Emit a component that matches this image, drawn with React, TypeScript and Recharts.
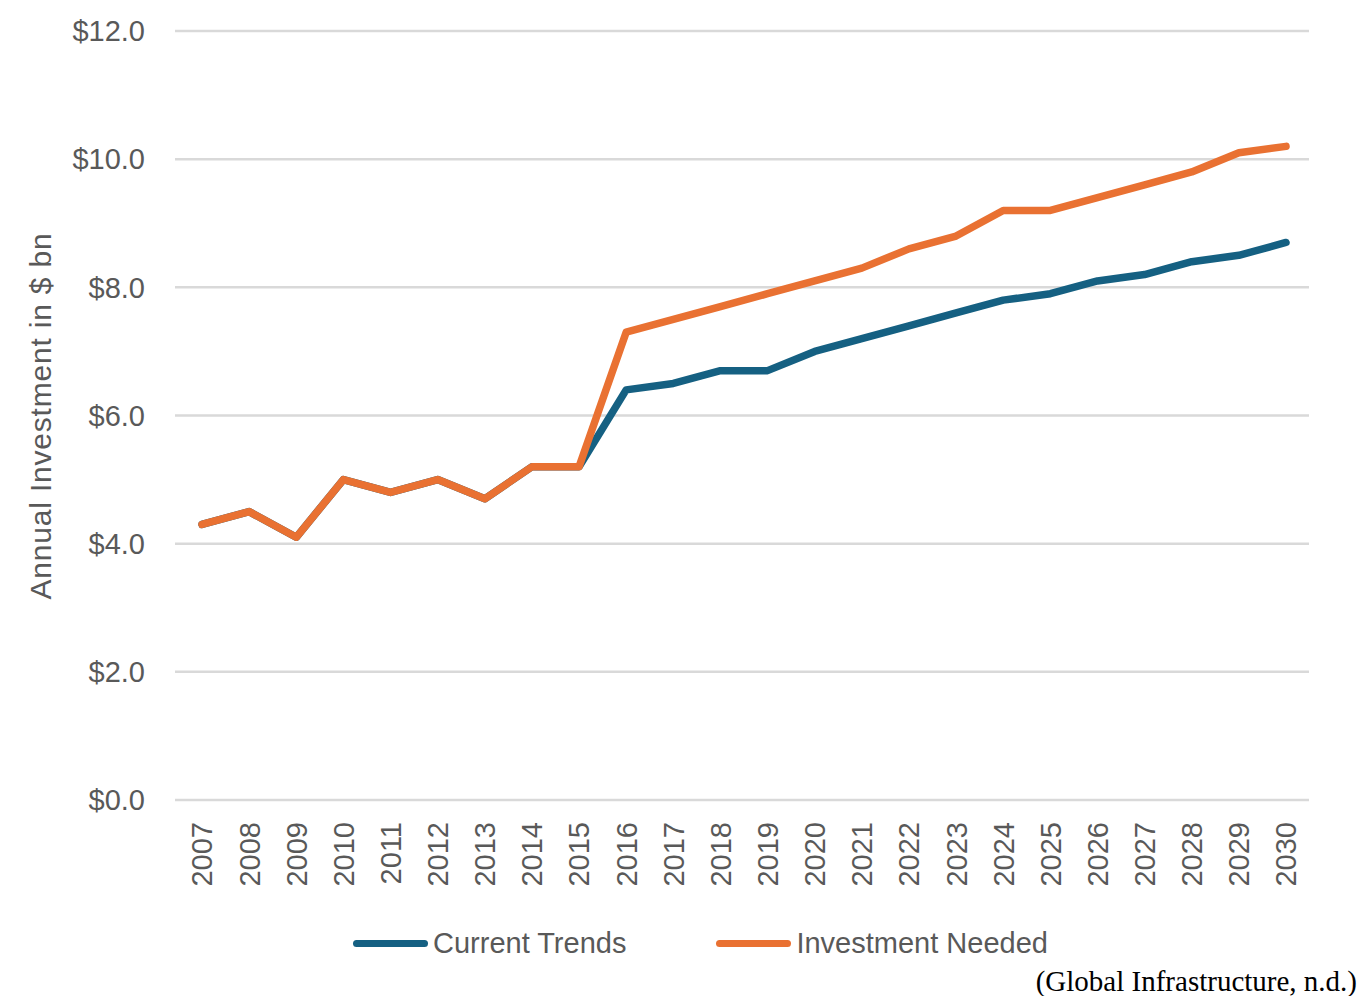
import React from 'react';
import { LineChart, Line, XAxis, YAxis, CartesianGrid } from 'recharts';

// ── Data ─────────────────────────────────────────────────────────────────────
const years = [
  '2007', '2008', '2009', '2010', '2011', '2012', '2013', '2014', '2015', '2016', '2017', '2018',
  '2019', '2020', '2021', '2022', '2023', '2024', '2025', '2026', '2027', '2028', '2029', '2030',
];
const currentTrends = [
  4.3, 4.5, 4.1, 5.0, 4.8, 5.0, 4.7, 5.2, 5.2, 6.4, 6.5, 6.7,
  6.7, 7.0, 7.2, 7.4, 7.6, 7.8, 7.9, 8.1, 8.2, 8.4, 8.5, 8.7,
];
const investmentNeeded = [
  4.3, 4.5, 4.1, 5.0, 4.8, 5.0, 4.7, 5.2, 5.2, 7.3, 7.5, 7.7,
  7.9, 8.1, 8.3, 8.6, 8.8, 9.2, 9.2, 9.4, 9.6, 9.8, 10.1, 10.2,
];
const yTicks = [0, 2, 4, 6, 8, 10, 12];

const BLUE = '#156082';
const ORANGE = '#E97132';
const TEXT = '#595959';
const FONT = '"Liberation Sans", Arial, sans-serif';

const rows = years.map((year, i) => ({
  year,
  current: currentTrends[i],
  needed: investmentNeeded[i],
}));

// rotated year labels under the axis
function YearTick({ x, y, payload }: any) {
  return (
    <text
      x={x}
      y={y}
      transform={`rotate(-90, ${x}, ${y})`}
      textAnchor="end"
      dy="0.36em"
      fill={TEXT}
      fontSize={29}
      fontFamily={FONT}
    >
      {payload.value}
    </text>
  );
}

function YLabel() {
  return (
    <text
      x={40}
      y={416}
      transform="rotate(-90, 40, 416)"
      textAnchor="middle"
      dominantBaseline="central"
      fill={TEXT}
      fontSize={30}
      letterSpacing={0.8}
      fontFamily={FONT}
    >
      Annual Investment in $ bn
    </text>
  );
}

function LegendItem({ color, label }: { color: string; label: string }) {
  return (
    <div style={{ display: 'flex', alignItems: 'center' }}>
      <span style={{ width: 75, height: 7, borderRadius: 4, background: color, marginRight: 5 }} />
      <span style={{ color: TEXT, fontSize: 29, fontFamily: FONT }}>{label}</span>
    </div>
  );
}

export default function App() {
  return (
    <div style={{ position: 'absolute', left: 0, top: 0, width: 1363, height: 996, background: '#fff' }}>
      <LineChart
        width={1363}
        height={996}
        data={rows}
        margin={{ top: 31, right: 54, left: 0, bottom: 96 }}
      >
        <CartesianGrid vertical={false} stroke="#d9d9d9" strokeWidth={2.5} />
        <XAxis
          dataKey="year"
          height={100}
          axisLine={false}
          tickLine={false}
          tickSize={0}
          interval={0}
          padding={{ left: 27, right: 23 }}
          tick={<YearTick />}
          tickMargin={22}
        />
        <YAxis
          width={175}
          domain={[0, 12]}
          ticks={yTicks}
          axisLine={false}
          tickLine={false}
          tickSize={0}
          tickMargin={30}
          tickFormatter={(v: number) => `$${v.toFixed(1)}`}
          tick={{ fill: TEXT, fontSize: 29, fontFamily: FONT }}
          label={<YLabel />}
        />
        <Line
          type="linear"
          dataKey="current"
          stroke={BLUE}
          strokeWidth={7.5}
          strokeLinejoin="round"
          strokeLinecap="round"
          dot={false}
          isAnimationActive={false}
        />
        <Line
          type="linear"
          dataKey="needed"
          stroke={ORANGE}
          strokeWidth={7.5}
          strokeLinejoin="round"
          strokeLinecap="round"
          dot={false}
          isAnimationActive={false}
        />
      </LineChart>

      <div style={{ position: 'absolute', left: 353, top: 927, display: 'flex', gap: 90 }}>
        <LegendItem color={BLUE} label="Current Trends" />
        <LegendItem color={ORANGE} label="Investment Needed" />
      </div>

      <div
        style={{
          position: 'absolute',
          right: 6,
          top: 965,
          fontFamily: '"Liberation Serif", "Times New Roman", serif',
          fontSize: 29,
          letterSpacing: 0,
          color: '#000',
        }}
      >
        (Global Infrastructure, n.d.)
      </div>
    </div>
  );
}
